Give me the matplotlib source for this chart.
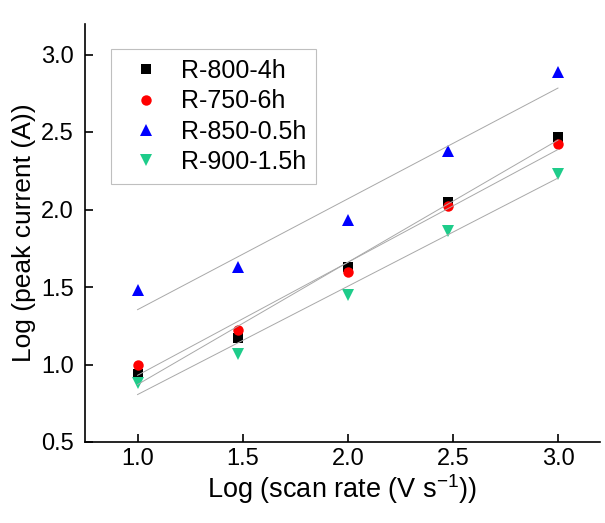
import numpy as np
import matplotlib
matplotlib.use('Agg')
import matplotlib.pyplot as plt

plt.rcParams['font.family'] = ['Liberation Sans', 'DejaVu Sans']
plt.rcParams['mathtext.fontset'] = 'custom'
plt.rcParams['mathtext.rm'] = 'Liberation Sans'

# log scan rate (10, 30, 100, 300, 1000 mV/s)
log_rate = [1.0, 1.477, 2.0, 2.477, 3.0]

names = ['R-800-4h', 'R-750-6h', 'R-850-0.5h', 'R-900-1.5h']
r800 = [0.94, 1.17, 1.63, 2.05, 2.47]
r750 = [1.00, 1.22, 1.60, 2.02, 2.42]
r850 = [1.48, 1.63, 1.93, 2.38, 2.89]
r900 = [0.88, 1.07, 1.45, 1.86, 2.23]

series = [r800, r750, r850, r900]
markers = ['s', 'o', '^', 'v']
colors = ['black', 'red', 'blue', '#1ECC8A']
msizes = [7, 7.5, 8.5, 8.5]

fig = plt.figure(figsize=(6.05, 5.23), dpi=100)
ax = fig.add_axes([85/605, 81/523, 515/605, 418.5/523])

x = np.array(log_rate)
for y, name, m, c, ms in zip(series, names, markers, colors, msizes):
    ax.plot(x, y, linestyle='none', marker=m, color=c, markersize=ms,
            markeredgewidth=0, label=name, zorder=2)
    # linear fit
    k, b = np.polyfit(x, y, 1)
    ax.plot([x[0], x[-1]], [k*x[0]+b, k*x[-1]+b], color='#a8a8a8', lw=0.7, zorder=3)

ax.set_xlim(0.75, 3.2)
ax.set_ylim(0.5, 3.2)
ax.set_xticks([1.0, 1.5, 2.0, 2.5, 3.0])
ax.set_yticks([0.5, 1.0, 1.5, 2.0, 2.5, 3.0])
ax.xaxis.set_major_formatter(matplotlib.ticker.FormatStrFormatter('%.1f'))
ax.yaxis.set_major_formatter(matplotlib.ticker.FormatStrFormatter('%.1f'))
ax.tick_params(direction='in', length=6, width=1.2, labelsize=17)
ax.tick_params(axis='x', pad=4)
ax.tick_params(axis='y', pad=8)
ax.spines['top'].set_visible(False)
ax.spines['right'].set_visible(False)
ax.spines['left'].set_linewidth(1.2)
ax.spines['bottom'].set_linewidth(1.2)

ax.set_xlabel(r'Log (scan rate (V s$\mathregular{^{-1}}$))', fontsize=19.5, labelpad=2)
ax.set_ylabel('Log (peak current (A))', fontsize=19, labelpad=4)

leg = ax.legend(loc='upper left', bbox_to_anchor=(0.05, 0.939), fontsize=18,
                frameon=True, fancybox=False, handletextpad=0.4,
                borderpad=0.4, labelspacing=0.25, borderaxespad=0)
leg.get_frame().set_edgecolor('#b0b0b0')
leg.get_frame().set_linewidth(0.8)

fig.savefig('out.png', dpi=100)
